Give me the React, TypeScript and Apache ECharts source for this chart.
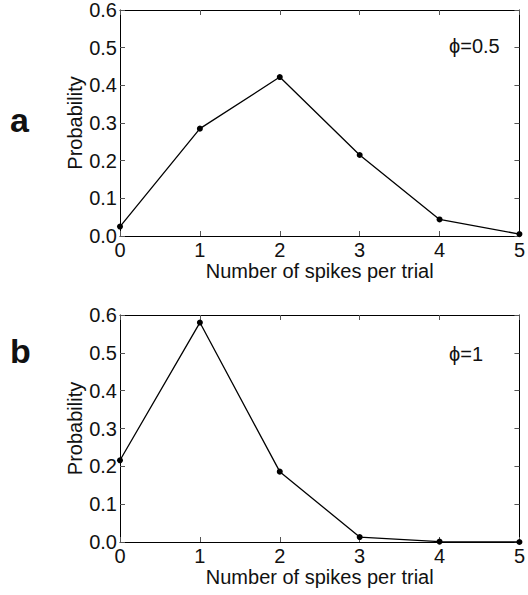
import React, { useEffect, useRef } from "react";
import * as echarts from "echarts";

const spikeCounts = [0, 1, 2, 3, 4, 5];
const probPhiHalf = [0.025, 0.285, 0.422, 0.215, 0.044, 0.005];
const probPhiOne = [0.216, 0.58, 0.186, 0.013, 0.001, 0.0];
const panelLabels = ["a", "b"];
const phiLabels = ["\u03d5=0.5", "\u03d5=1"];
const xAxisTitle = "Number of spikes per trial";
const yAxisTitle = "Probability";

const FONT = "'Liberation Sans', Arial, Helvetica, sans-serif";
const TXT = "#111";

export default function App() {
  const ref = useRef<HTMLDivElement>(null);
  useEffect(() => {
    if (!ref.current) return;
    const chart = echarts.init(ref.current, null, { renderer: "svg" });
    const grids = [
      { left: 120, top: 7, width: 403, height: 229 },
      { left: 120, top: 315, width: 403, height: 227 },
    ];
    const series = [probPhiHalf, probPhiOne];
    const xAxes: any[] = [];
    const yAxes: any[] = [];
    grids.forEach((_, gi) => {
      const baseX = {
        type: "value",
        gridIndex: gi,
        min: 0,
        max: 5,
        interval: 1,
        splitLine: { show: false },
        axisLine: { show: true, onZero: false, lineStyle: { color: "#000", width: 1 } },
        axisTick: { show: true, inside: true, length: 5, lineStyle: { color: "#555" } },
      };
      xAxes.push({
        ...baseX,
        position: "bottom",
        name: xAxisTitle,
        nameLocation: "middle",
        nameGap: 25,
        nameMoveOverlap: false,
        nameTextStyle: { fontFamily: FONT, fontSize: 20, color: TXT },
        axisLabel: { show: true, margin: 4, fontFamily: FONT, fontSize: 20, color: TXT },
      });
      xAxes.push({ ...baseX, position: "top", axisLabel: { show: false } });
      const baseY = {
        type: "value",
        gridIndex: gi,
        min: 0,
        max: 0.6,
        interval: 0.1,
        splitLine: { show: false },
        axisLine: { show: true, onZero: false, lineStyle: { color: "#000", width: 1 } },
        axisTick: { show: true, inside: true, length: 5, lineStyle: { color: "#555" } },
      };
      yAxes.push({
        ...baseY,
        position: "left",
        name: yAxisTitle,
        nameLocation: "middle",
        nameGap: 35,
        nameMoveOverlap: false,
        nameTextStyle: { fontFamily: FONT, fontSize: 20, color: TXT },
        axisLabel: {
          show: true,
          margin: 3,
          fontFamily: FONT,
          fontSize: 20,
          color: TXT,
          formatter: (v: number) => v.toFixed(1),
        },
      });
      yAxes.push({ ...baseY, position: "right", axisLabel: { show: false } });
    });
    chart.setOption({
      animation: false,
      backgroundColor: "#fff",
      grid: grids,
      xAxis: xAxes,
      yAxis: yAxes,
      series: series.map((vals, gi) => ({
        type: "line",
        xAxisIndex: gi * 2,
        yAxisIndex: gi * 2,
        data: spikeCounts.map((x, i) => [x, vals[i]]),
        symbol: "circle",
        symbolSize: 6,
        lineStyle: { color: "#000", width: 1.3 },
        itemStyle: { color: "#000" },
        clip: false,
      })),
      graphic: [
        {
          type: "text",
          left: 10,
          top: 103,
          style: { text: panelLabels[0], font: `bold 34px ${FONT}`, fill: TXT },
        },
        {
          type: "text",
          left: 10,
          top: 334,
          style: { text: panelLabels[1], font: `bold 34px ${FONT}`, fill: TXT },
        },
        {
          type: "text",
          left: 449,
          top: 36,
          style: { text: phiLabels[0], font: `20px ${FONT}`, fill: TXT },
        },
        {
          type: "text",
          left: 449,
          top: 344,
          style: { text: phiLabels[1], font: `20px ${FONT}`, fill: TXT },
        },
      ],
    });
    return () => chart.dispose();
  }, []);
  return (
    <div
      ref={ref}
      style={{ position: "fixed", left: 0, top: 0, width: 528, height: 595, background: "#fff" }}
    />
  );
}
